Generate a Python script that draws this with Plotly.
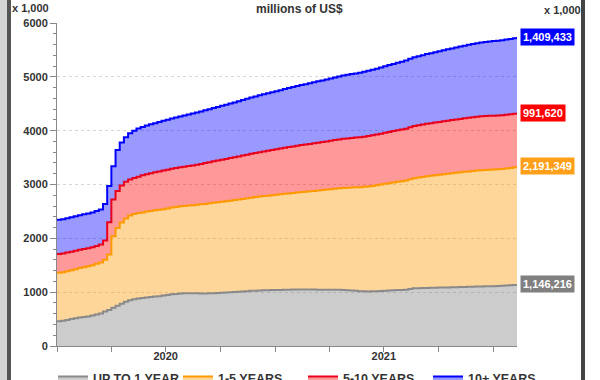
import pandas as pd
import plotly.graph_objects as go

# Weekly (Wednesday) observations, values in billions (x 1,000 millions of US$)
up_to_1y = [460,470,485,500,515,530,540,550,565,585,605,
            640,670,710,750,785,820,848,868,882,892,
            902,910,918,926,936,948,960,968,974,978,
            980,980,978,976,975,978,982,986,990,994,
            998,1002,1006,1012,1018,1024,1028,1032,1035,1037,
            1039,1040,1042,1044,1046,1048,1049,1050,1050,1049,
            1048,1047,1046,1045,1045,1044,1043,1040,1035,1030,
            1024,1018,1015,1014,1015,1018,1022,1026,1030,1034,
            1038,1040,1045,1060,1072,1075,1077,1079,1081,1083,
            1085,1087,1089,1091,1093,1095,1097,1099,1101,1104,
            1106,1108,1110,1112,1114,1118,1123,1128,1134,1146.216]

y1_5 = [900,902,905,908,912,918,924,930,936,942,947,
        960,1030,1330,1440,1510,1550,1575,1585,1588,1590,
        1595,1600,1602,1604,1606,1608,1612,1616,1620,1624,
        1630,1636,1645,1655,1665,1672,1678,1684,1690,1696,
        1702,1708,1714,1720,1726,1732,1738,1744,1750,1756,
        1762,1768,1775,1782,1789,1796,1803,1810,1817,1824,
        1833,1842,1851,1860,1869,1878,1887,1896,1905,1914,
        1923,1932,1941,1950,1959,1968,1977,1986,1995,2004,
        2012,2020,2028,2036,2045,2054,2063,2072,2080,2088,
        2096,2104,2111,2118,2125,2132,2138,2144,2150,2155,
        2159,2162,2164,2165,2167,2170,2175,2180,2185,2191.349]

y5_10 = [350,348,346,344,342,340,338,336,334,332,332,
         360,600,680,690,685,680,668,668,675,688,
         695,700,706,712,716,720,722,724,726,728,
         732,738,745,752,760,765,770,775,780,785,
         790,795,800,805,810,815,820,825,830,835,
         840,845,850,855,860,864,868,872,876,880,
         884,888,892,896,900,904,908,912,916,920,
         924,928,932,936,940,943,946,949,952,955,
         958,961,964,967,970,972,974,976,978,980,
         982,984,986,988,990,992,994,996,998,1000,
         1001,1002,1002,1002,1001,1000,998,996,994,991.620]

y10_plus = [633,635,637,639,641,643,645,646,647,648,650,
            680,670,620,760,800,830,859,879,895,900,
            903,910,914,918,927,929,934,938,945,953,
            958,963,968,973,978,983,989,995,1001,1007,
            1013,1019,1025,1031,1037,1043,1049,1055,1061,1067,
            1073,1079,1085,1091,1097,1103,1109,1115,1121,1127,
            1133,1139,1145,1151,1157,1163,1169,1175,1181,1187,
            1193,1199,1205,1211,1217,1223,1229,1235,1241,1247,
            1253,1259,1265,1271,1277,1283,1289,1295,1301,1307,
            1313,1319,1325,1331,1337,1343,1349,1355,1361,1367,
            1372,1377,1381,1385,1389,1393,1397,1401,1405,1409.433]

names = ["UP TO 1 YEAR", "1-5 YEARS", "5-10 YEARS", "10+ YEARS"]
last_labels = ["1,146,216", "2,191,349", "991,620", "1,409,433"]
year_labels = ["2020", "2021"]
year_label_dates = ["2020-07-01", "2021-07-01"]
dates = pd.date_range("2020-01-01", periods=len(up_to_1y), freq="7D")

series = [up_to_1y, y1_5, y5_10, y10_plus]
line_colors = ["#8a8a8a", "#ff9900", "#e8001c", "#0000ff"]
fill_colors = ["rgba(128,128,128,0.4)", "rgba(255,153,0,0.4)",
               "rgba(255,0,0,0.4)", "rgba(0,0,255,0.4)"]
box_colors = ["#808080", "#ff9f1a", "#ff0000", "#0000ff"]

fig = go.Figure()
for name, vals, lc, fc in zip(names, series, line_colors, fill_colors):
    fig.add_trace(go.Scatter(
        x=dates, y=vals, name=name, mode="lines", stackgroup="one",
        line=dict(color=lc, width=2, shape="hv"), fillcolor=fc,
    ))

font_bold = "Liberation Sans, Arial, sans-serif"
tickfont = dict(family=font_bold, size=11, color="#333333", weight="bold")
xrange = [dates[0], dates[-1]]

fig.update_layout(
    width=600, height=380,
    margin=dict(l=57, r=83, t=23, b=34, autoexpand=False),
    paper_bgcolor="white", plot_bgcolor="white",
    showlegend=True,
    legend=dict(orientation="h", x=-0.0087, xanchor="left",
                y=-0.055, yanchor="top", traceorder="normal",
                entrywidthmode="pixels", entrywidth=80,
                font=dict(family=font_bold, size=12.5, color="#333333", weight="bold")),
    xaxis=dict(type="date", range=xrange,
               tickmode="array", tickvals=year_label_dates, ticktext=year_labels,
               ticks="", showgrid=False,
               minor=dict(tick0="2020-01-01", dtick="M3", ticks="outside", ticklen=5,
                          tickcolor="#888888", showgrid=False),
               showline=True, linecolor="#888888", tickfont=tickfont, zeroline=False),
    xaxis2=dict(type="date", range=xrange, overlaying="x", side="bottom",
                tick0="2020-01-01", dtick="M12", showticklabels=False, ticks="",
                showgrid=True, gridcolor="#d9d9d9", gridwidth=1, showline=False, zeroline=False),
    yaxis=dict(range=[0, 6000], dtick=1000, showgrid=True, gridcolor="#d6d6d6", griddash="dot",
               ticks="outside", ticklen=6, tickcolor="#888888",
               minor=dict(dtick=200, ticks="outside", ticklen=3, tickcolor="#888888", showgrid=False),
               showline=True, linecolor="#888888", tickfont=tickfont, zeroline=False),
    yaxis2=dict(range=[0, 6000], dtick=1000, overlaying="y", side="right", showgrid=False,
                ticks="outside", ticklen=6, tickcolor="#888888",
                minor=dict(dtick=200, ticks="outside", ticklen=3, tickcolor="#888888", showgrid=False),
                showline=True, linecolor="#888888", tickfont=tickfont, zeroline=False),
)

annos = [
    dict(text="millions of US$", xref="paper", yref="paper", x=0.528, y=1.042,
         xanchor="center", yanchor="middle", showarrow=False,
         font=dict(family=font_bold, size=12, color="#333333", weight="bold")),
    dict(text="x 1,000", xref="paper", yref="paper", x=-0.013, y=1.045,
         xanchor="right", yanchor="middle", showarrow=False,
         font=dict(family=font_bold, size=11, color="#333333", weight="bold")),
    dict(text="x 1,000", xref="paper", yref="paper", x=1.055, y=1.039,
         xanchor="left", yanchor="middle", showarrow=False,
         font=dict(family=font_bold, size=11, color="#333333", weight="bold")),
]
cum = 0
for vals, lab, bc in zip(series, last_labels, box_colors):
    cum += vals[-1]
    annos.append(dict(text=lab, xref="paper", yref="y", x=1, y=cum, xanchor="left",
                      yanchor="middle", xshift=3, showarrow=False, bgcolor=bc,
                      borderpad=2,
                      font=dict(family=font_bold, size=11, color="white", weight="bold")))
fig.update_layout(annotations=annos)

def px(xp):
    return (xp - 57) / 460.0

fig.update_layout(shapes=[
    dict(type="rect", xref="paper", yref="paper", x0=px(0), x1=px(7), y0=-0.3, y1=1.3,
         fillcolor="#d4d4d4", line=dict(width=0), layer="above"),
    dict(type="rect", xref="paper", yref="paper", x0=px(7), x1=px(11), y0=-0.3, y1=1.3,
         fillcolor="#555555", line=dict(width=0), layer="above"),
    dict(type="rect", xref="paper", yref="paper", x0=px(581), x1=px(585), y0=-0.3, y1=1.3,
         fillcolor="#444444", line=dict(width=0), layer="above"),
])

fig.write_html("out.html", config={"displayModeBar": False},
               post_script="document.body.style.margin='0px';")
